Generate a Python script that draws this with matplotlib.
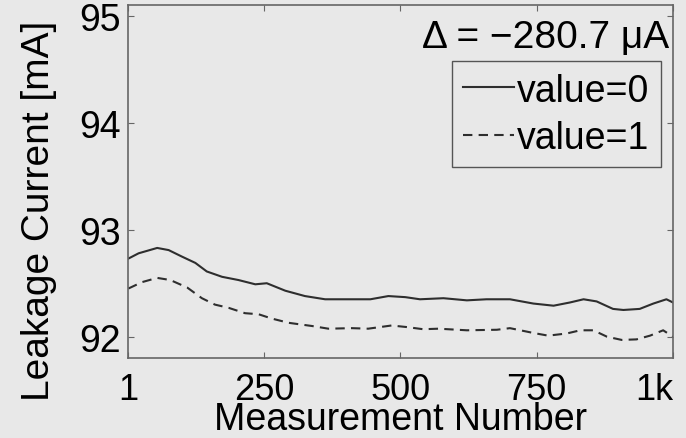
import matplotlib.pyplot as plt

plt.rcParams['font.family'] = ['Liberation Sans', 'DejaVu Sans']

meas0 = [1, 20, 54, 75, 99, 124, 145, 173, 203, 234, 255, 289, 325, 362, 405, 445,
         478, 509, 536, 579, 622, 658, 701, 744, 781, 811, 836, 860, 890, 909,
         939, 964, 988, 1000]
value0 = [92.73, 92.78, 92.83, 92.81, 92.75, 92.69, 92.61, 92.56, 92.53, 92.49,
          92.50, 92.43, 92.38, 92.35, 92.35, 92.35, 92.38, 92.37, 92.35, 92.36,
          92.34, 92.35, 92.35, 92.31, 92.29, 92.32, 92.35, 92.33, 92.26, 92.25,
          92.26, 92.31, 92.35, 92.32]
meas1 = [1, 26, 54, 78, 109, 136, 160, 185, 215, 240, 264, 295, 338, 368, 411, 441,
         484, 512, 542, 570, 622, 677, 701, 744, 771, 805, 830, 854, 879, 906,
         933, 958, 982, 1000]
value1 = [92.45, 92.51, 92.55, 92.53, 92.46, 92.36, 92.30, 92.27, 92.22, 92.21,
          92.17, 92.13, 92.10, 92.075, 92.08, 92.075, 92.105, 92.09, 92.07, 92.075,
          92.06, 92.065, 92.08, 92.035, 92.01, 92.03, 92.06, 92.06, 92.00, 91.97,
          91.975, 92.01, 92.06, 92.00]
xticks = [1, 250, 500, 750, 1000]
xtick_labels = ['1', '250', '500', '750', '1k']
yticks = [92, 93, 94, 95]

bg = '#e8e8e8'
fig = plt.figure(figsize=(6.86, 4.39), dpi=100, facecolor=bg)
ax = fig.add_axes([0.187, 0.182, 0.794, 0.804], facecolor=bg)

ax.plot(meas0, value0, color='#2e2e2e', lw=1.5, label='value=0')
ax.plot(meas1, value1, color='#2e2e2e', lw=1.5, dashes=(4.5, 3), label='value=1')

ax.set_xlim(1, 1000)
ax.set_ylim(91.8, 95.1)
ax.set_xticks(xticks)
ax.set_xticklabels(xtick_labels)
ax.set_yticks(yticks)
ax.tick_params(direction='in', length=4, width=0.8, color='#666666',
               labelsize=27, top=True, right=True)
ax.tick_params(axis='x', pad=10, labelsize=26)
ax.tick_params(axis='y', pad=5)
ax.get_xticklabels()[-1].set_horizontalalignment('right')
for s in ax.spines.values():
    s.set_color('#666666')
    s.set_linewidth(1.2)

ax.set_xlabel('Measurement Number', fontsize=27, labelpad=-4)
ax.set_ylabel('Leakage Current [mA]', fontsize=28)
ax.yaxis.set_label_coords(-0.13, 0.42)

ax.text(0.993, 0.881, '\u0394 = \u2212280.7 \u03bcA', transform=ax.transAxes,
        ha='right', va='baseline', fontsize=28)

leg = ax.legend(loc='upper right', bbox_to_anchor=(0.978, 0.841), fontsize=27,
                handlelength=1.35, handletextpad=0.1, borderpad=0.3,
                labelspacing=0.3, borderaxespad=0, fancybox=False, framealpha=1)
leg.get_frame().set_facecolor(bg)
leg.get_frame().set_edgecolor('#555555')
leg.get_frame().set_linewidth(1.0)

fig.savefig('out.png', dpi=100, facecolor=bg)
